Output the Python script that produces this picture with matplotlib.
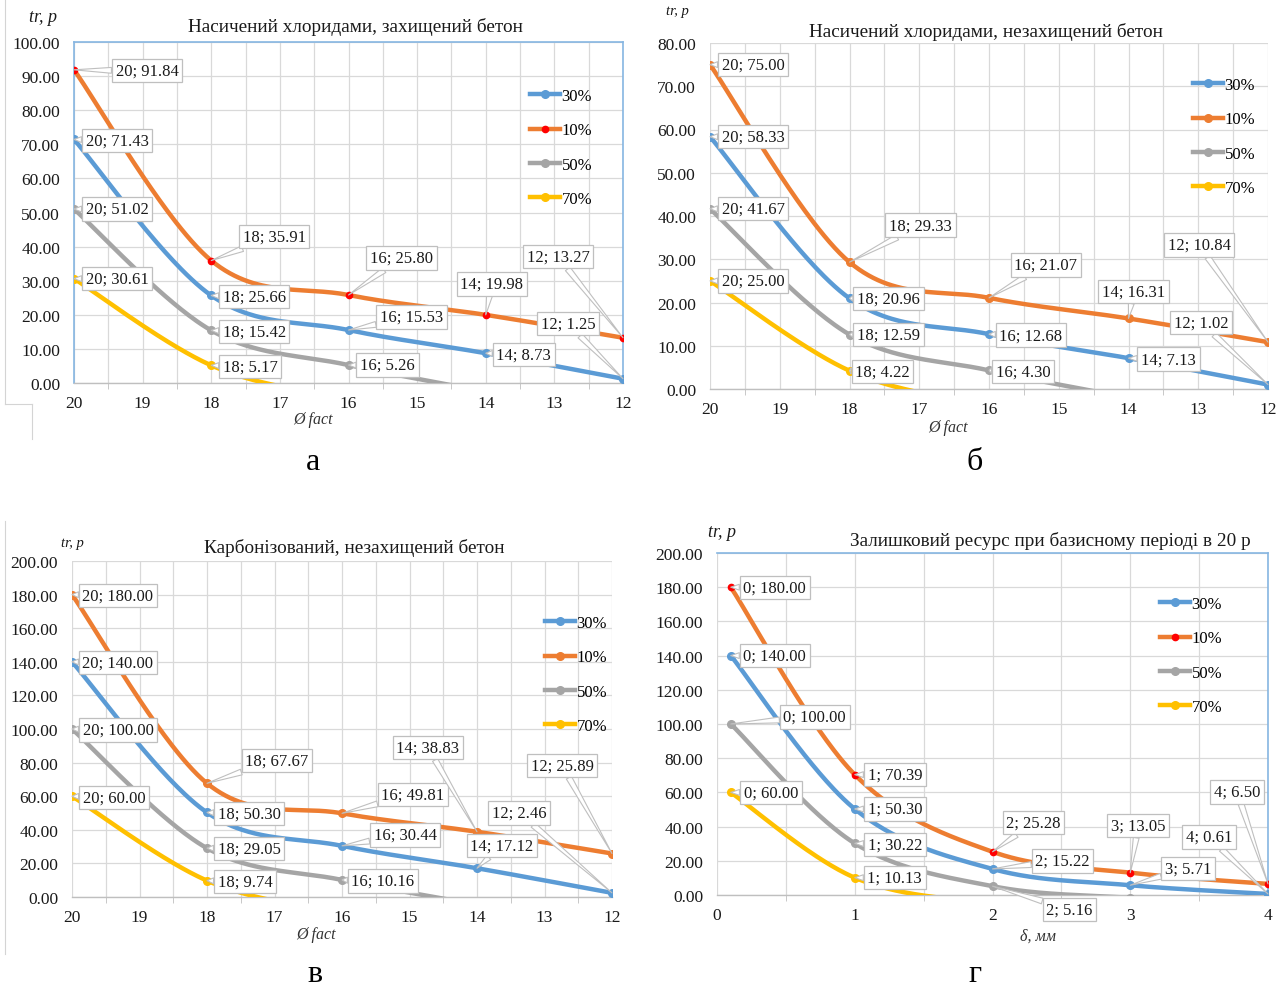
import numpy as np
import matplotlib
matplotlib.use("Agg")
import matplotlib.pyplot as plt
from matplotlib.lines import Line2D

plt.rcParams['font.family'] = ['Liberation Serif', 'DejaVu Serif']

W, H = 1285, 987

# ---------------- data ----------------
series_names = ["30%", "10%", "50%", "70%"]

diam = [20, 18, 16, 14, 12]            # Ø fact
delta = [0.1, 1, 2, 3, 4]              # δ, мм

# Насичений хлоридами, захищений бетон
a_30 = [71.43, 25.66, 15.53, 8.73, 1.25]
a_10 = [91.84, 35.91, 25.80, 19.98, 13.27]
a_50 = [51.02, 15.42, 5.26, -2.52, -10.77]
a_70 = [30.61, 5.17, -5.01, -13.77, -22.79]

# Насичений хлоридами, незахищений бетон
b_30 = [58.33, 20.96, 12.68, 7.13, 1.02]
b_10 = [75.00, 29.33, 21.07, 16.31, 10.84]
b_50 = [41.67, 12.59, 4.30, -2.05, -8.80]
b_70 = [25.00, 4.22, -4.08, -11.23, -18.62]

# Карбонізований, незахищений бетон
c_30 = [140.00, 50.30, 30.44, 17.12, 2.46]
c_10 = [180.00, 67.67, 49.81, 38.83, 25.89]
c_50 = [100.00, 29.05, 10.16, -4.50, -20.00]
c_70 = [60.00, 9.74, -10.00, -26.00, -44.00]

# Залишковий ресурс при базисному періоді в 20 р
d_30 = [140.00, 50.30, 15.22, 5.71, 0.61]
d_10 = [180.00, 70.39, 25.28, 13.05, 6.50]
d_50 = [100.00, 30.22, 5.16, -1.63, -5.28]
d_70 = [60.00, 10.13, -4.90, -8.97, -11.17]

titles = ["Насичений хлоридами, захищений бетон",
          "Насичений хлоридами, незахищений бетон",
          "Карбонізований, незахищений бетон",
          "Залишковий ресурс при базисному періоді в 20 р"]
panel_letters = ["а", "б", "в", "г"]

# ---------------- styles ----------------
COLORS = {"30%": "#5B9BD5", "10%": "#ED7D31", "50%": "#A5A5A5", "70%": "#FFC000"}
GRID = "#D9D9D9"
FRAME_BLUE = "#86B6E2"
LEADER = "#BFBFBF"


def px(x, y):
    return x / W, 1 - y / H


def excel_smooth(x, y, n=60):
    """Bezier smoothing in the manner of spreadsheet 'smoothed line' charts."""
    P = np.column_stack([np.asarray(x, float), np.asarray(y, float)])
    Pe = np.vstack([P[0], P, P[-1]])
    t = np.linspace(0, 1, n)[:, None]
    out = []
    for i in range(len(P) - 1):
        p0, p1, p2, p3 = Pe[i], Pe[i + 1], Pe[i + 2], Pe[i + 3]
        c1 = p1 + (p2 - p0) / 6
        c2 = p2 - (p3 - p1) / 6
        seg = (1 - t) ** 3 * p1 + 3 * (1 - t) ** 2 * t * c1 + 3 * (1 - t) * t ** 2 * c2 + t ** 3 * p2
        out.append(seg if i == 0 else seg[1:])
    pts = np.vstack(out)
    return pts[:, 0], pts[:, 1]


fig = plt.figure(figsize=(W / 100, H / 100), dpi=100)

# axes rectangles in pixels: left, top, right, bottom
rects = [(74, 43, 623, 384), (710, 44, 1268, 390), (72, 562, 612, 898), (717, 554, 1268, 896)]

panels = [
    dict(x=diam, ys={"30%": a_30, "10%": a_10, "50%": a_50, "70%": a_70},
         ymax=100, ystep=10, xlim=(20, 12), xlabel="Ø fact", red10=True,
         xfmt="{:.0f}",
         labels=[("10%", 0, 73, -1), ("30%", 0, 43, -1), ("50%", 0, 43, 0), ("70%", 0, 43, 0),
                 ("10%", 1, 63, 24), ("30%", 1, 43, -1), ("50%", 1, 43, -1), ("70%", 1, 39, -1),
                 ("10%", 2, 53, 37), ("30%", 2, 63, 13), ("50%", 2, 39, 0),
                 ("10%", 3, 6, 31), ("30%", 3, 38, -1),
                 ("10%", 4, -65, 81), ("30%", 4, -55, 55)],
         legend_at=(530, 89), frame="lrt",
         trp=(43, 18, 13), title_at=(355, 27), xl_at=(313, 420), let_at=(313, 463)),
    dict(x=diam, ys={"30%": b_30, "10%": b_10, "50%": b_50, "70%": b_70},
         ymax=80, ystep=10, xlim=(20, 12), xlabel="Ø fact", red10=False,
         xfmt="{:.0f}",
         labels=[("10%", 0, 43, 0), ("30%", 0, 43, 0), ("50%", 0, 43, 0), ("70%", 0, 43, 0),
                 ("10%", 1, 71, 37), ("30%", 1, 39, 0), ("50%", 1, 39, 0), ("70%", 1, 33, -1),
                 ("10%", 2, 57, 33), ("30%", 2, 42, -1), ("50%", 2, 34, -1),
                 ("10%", 3, 5, 27), ("30%", 3, 40, -1),
                 ("10%", 4, -69, 97), ("30%", 4, -67, 62)],
         legend_at=(1193, 78), frame="",
         trp=(677, 12, 10.5), title_at=(986, 32), xl_at=(948, 428), let_at=(975, 463)),
    dict(x=diam, ys={"30%": c_30, "10%": c_10, "50%": c_50, "70%": c_70},
         ymax=200, ystep=20, xlim=(20, 12), xlabel="Ø fact", red10=False,
         xfmt="{:.0f}",
         labels=[("10%", 0, 46, -1), ("30%", 0, 46, -1), ("50%", 0, 46, -1), ("70%", 0, 42, -1),
                 ("10%", 1, 70, 23), ("30%", 1, 42, -1), ("50%", 1, 42, 0), ("70%", 1, 38, -1),
                 ("10%", 2, 71, 19), ("30%", 2, 63, 11), ("50%", 2, 41, -1),
                 ("10%", 3, -49, 84), ("30%", 3, 25, 23),
                 ("10%", 4, -50, 88), ("30%", 4, -93, 80)],
         legend_at=(545, 616), frame="",
         trp=(72, 543, 10.5), title_at=(354, 548), xl_at=(316, 935), let_at=(315, 975)),
    dict(x=delta, ys={"30%": d_30, "10%": d_10, "50%": d_50, "70%": d_70},
         ymax=200, ystep=20, xlim=(0, 4), xlabel="δ, мм", red10=True,
         xfmt="{:.0f}",
         labels=[("10%", 0, 44, 0), ("30%", 0, 44, 0), ("50%", 0, 84, 7), ("70%", 0, 40, 0),
                 ("10%", 1, 40, 0), ("30%", 1, 40, 0), ("50%", 1, 40, -1), ("70%", 1, 40, 0),
                 ("10%", 2, 41, 29), ("30%", 2, 70, 8), ("50%", 2, 77, -23),
                 ("10%", 3, 8, 47), ("30%", 3, 58, 17),
                 ("10%", 4, -31, 92), ("30%", 4, -59, 57)],
         legend_at=(1160, 597), frame="rt",
         trp=(722, 533, 13), title_at=(1050, 541), xl_at=(1038, 937), let_at=(975, 975)),
]

for k, (rect, P) in enumerate(zip(rects, panels)):
    l, t, r, b = rect
    ax = fig.add_axes([l / W, 1 - b / H, (r - l) / W, (b - t) / H])
    ax.set_xlim(*P["xlim"])
    ax.set_ylim(0, P["ymax"])

    # grid
    lo, hi = min(P["xlim"]), max(P["xlim"])
    ax.set_xticks(np.arange(lo, hi + 0.01, 1))
    ax.set_xticks(np.arange(lo, hi + 0.01, 0.5), minor=True)
    ax.set_yticks(np.arange(0, P["ymax"] + 0.01, P["ystep"]))
    ax.set_yticklabels([f"{v:.2f}" for v in np.arange(0, P["ymax"] + 0.01, P["ystep"])])
    ax.grid(True, which="both", axis="x", color=GRID, lw=0.9)
    ax.grid(True, which="major", axis="y", color=GRID, lw=0.9)
    ax.set_axisbelow(True)
    ax.tick_params(axis="y", length=0, pad=10, labelsize=12.5, labelcolor="#1a1a1a")
    ax.tick_params(axis="x", which="major", length=0, pad=9, labelsize=12.5, labelcolor="#1a1a1a")
    ax.tick_params(axis="x", which="minor", length=4, color="#BFBFBF", direction="out")

    for s in ["left", "right", "top"]:
        ax.spines[s].set_visible(False)
    ax.spines["bottom"].set_color("#BFBFBF")
    ax.spines["bottom"].set_linewidth(1.0)
    side = {"l": "left", "r": "right", "t": "top"}
    for ch in P["frame"]:
        ax.spines[side[ch]].set_visible(True)
        ax.spines[side[ch]].set_color(FRAME_BLUE)
        ax.spines[side[ch]].set_linewidth(1.2)

    handles = []
    for name in series_names:
        yv = P["ys"][name]
        col = COLORS[name]
        xs, ys = excel_smooth(P["x"], yv)
        ax.plot(xs, ys, color=col, lw=3.2, solid_capstyle="round", zorder=3)
        mcol = "#FF0000" if (name == "10%" and P["red10"]) else col
        ms = 4.5 if mcol == "#FF0000" else 5.5
        ax.plot(P["x"], yv, ls="none", marker="o", ms=ms, mfc=mcol, mec=mcol, zorder=4)
        handles.append(Line2D([], [], color=col, lw=3.2, marker="o", ms=ms, mfc=mcol, mec=mcol))

    # data labels with callout leaders
    for name, i, dx, dy in P["labels"]:
        xv = P["x"][i]
        yv = P["ys"][name][i]
        txt = f"{P['xfmt'].format(xv)}; {yv:.2f}"
        ax.annotate(txt, xy=(xv, yv), xytext=(dx, dy), textcoords="offset pixels",
                    ha="center", va="center", fontsize=12, color="#1a1a1a", zorder=6,
                    annotation_clip=False,
                    bbox=dict(boxstyle="square,pad=0.22", fc="white", ec=LEADER, lw=0.9),
                    arrowprops=dict(arrowstyle="wedge,tail_width=0.35", fc="white", ec=LEADER,
                                    lw=0.8, shrinkA=0, shrinkB=0))

    lx, ly = P["legend_at"]
    fig.legend(handles, series_names, loc="upper left", bbox_to_anchor=px(lx, ly),
               bbox_transform=fig.transFigure, frameon=False, fontsize=12,
               handlelength=1.8, handletextpad=0.1, labelspacing=1.1,
               borderpad=0, borderaxespad=0, numpoints=1)

    tx, ty, tsz = P["trp"]
    fig.text(*px(tx, ty), "tr, p", style="italic", fontsize=tsz, ha="center", va="center",
             color="#1a1a1a")
    fig.text(*px(*P["title_at"]), titles[k], fontsize=13.9, ha="center", va="center",
             color="#1a1a1a")
    fig.text(*px(*P["xl_at"]), P["xlabel"], style="italic", fontsize=11.5, ha="center",
             va="center", color="#333333")
    fig.text(*px(*P["let_at"]), panel_letters[k], fontsize=23, ha="center", va="center",
             color="black")

# thin chart-area borders at the page edge
edge = "#D4D4D4"
fig.add_artist(Line2D([5 / W, 5 / W], [1 - 0 / H, 1 - 405 / H], color=edge, lw=0.8,
                      transform=fig.transFigure))
fig.add_artist(Line2D([5 / W, 32 / W], [1 - 405 / H, 1 - 405 / H], color=edge, lw=0.8,
                      transform=fig.transFigure))
fig.add_artist(Line2D([32 / W, 32 / W], [1 - 405 / H, 1 - 440 / H], color=edge, lw=0.8,
                      transform=fig.transFigure))
fig.add_artist(Line2D([5 / W, 5 / W], [1 - 522 / H, 1 - 955 / H], color=edge, lw=0.8,
                      transform=fig.transFigure))

fig.savefig("out.png", dpi=100)
